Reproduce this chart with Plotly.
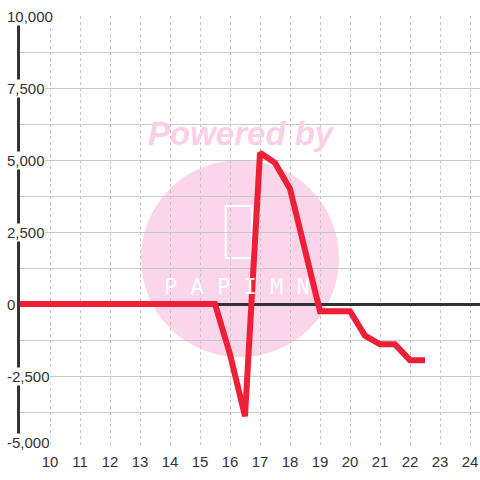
import plotly.graph_objects as go

# series (half-hour steps)
x_vals = [9, 9.5, 10, 10.5, 11, 11.5, 12, 12.5, 13, 13.5, 14, 14.5, 15, 15.5,
          16, 16.5, 17, 17.5, 18, 18.5, 19, 19.5, 20, 20.5, 21, 21.5, 22, 22.5]
y_vals = [0, 0, 0, 0, 0, 0, 0, 0, 0, 0, 0, 0, 0, 0,
          -1750, -3900, 5250, 4900, 4000, 1900, -250, -250, -250, -1100, -1400, -1400, -1950, -1950]

x_ticks = list(range(10, 25))
y_ticks = [-5000, -2500, 0, 2500, 5000, 7500, 10000]

FONT = "Liberation Sans, Arial, sans-serif"
TXT = "#333333"
PINK = "#FBD5EA"

fig = go.Figure(go.Scatter(
    x=x_vals,
    y=y_vals,
    mode="lines",
    line=dict(color="#EE1F37", width=6),
    hoverinfo="skip",
    showlegend=False,
))

# watermark circle + logo (decoration)
fig.add_shape(type="circle", xref="paper", yref="paper",
              x0=0.263, x1=0.6935, y0=0.2106, y1=0.6667,
              fillcolor=PINK, line=dict(width=0), layer="below")
fig.add_shape(type="rect", xref="paper", yref="paper",
              x0=0.447, x1=0.504, y0=0.44, y1=0.56,
              line=dict(color="white", width=2), fillcolor="rgba(0,0,0,0)", layer="below")
fig.add_annotation(x=0.472, y=0.375, xref="paper", yref="paper", xanchor="center", yanchor="middle",
                   text="P A P I M N", showarrow=False,
                   font=dict(family="DejaVu Sans Mono", size=22, color="white"))
fig.add_annotation(x=0.481, y=0.727, xref="paper", yref="paper", xanchor="center", yanchor="middle",
                   text="<b><i>Powered by</i></b>", showarrow=False,
                   font=dict(family=FONT, size=33, color="#FAD0E8"))

# y tick labels with white box, sitting over the axis line
for v in y_ticks:
    fig.add_annotation(
        x=0, xref="paper", xanchor="left", xshift=-14,
        y=v, yref="y", yanchor="middle", yshift=6 if v == y_ticks[0] else 0,
        text=f"{v:,}", showarrow=False, bgcolor="white", borderpad=0,
        font=dict(family=FONT, size=15, color=TXT),
    )

fig.update_layout(
    width=480,
    height=480,
    margin=dict(l=20, r=0, t=16, b=32),
    plot_bgcolor="white",
    paper_bgcolor="white",
    font=dict(family=FONT, size=15, color=TXT),
    showlegend=False,
    xaxis=dict(
        range=[9, 24.3333],
        tickvals=x_ticks,
        showgrid=True,
        gridcolor="#C4C4C4",
        griddash="3px,3px",
        gridwidth=1,
        zeroline=False,
        showline=False,
        ticks="",
        ticklabelstandoff=3,
        tickfont=dict(family=FONT, size=15, color=TXT),
    ),
    yaxis=dict(
        range=[-5000, 10000],
        dtick=1250,
        tick0=0,
        showticklabels=False,
        showgrid=True,
        gridcolor="#C8C8C8",
        gridwidth=1,
        zeroline=True,
        zerolinecolor="#333333",
        zerolinewidth=3,
        showline=True,
        linecolor="#333333",
        linewidth=3,
        ticks="",
    ),
)

fig.write_html("out.html", config={"displayModeBar": False},
               post_script="document.body.style.margin='0';")
